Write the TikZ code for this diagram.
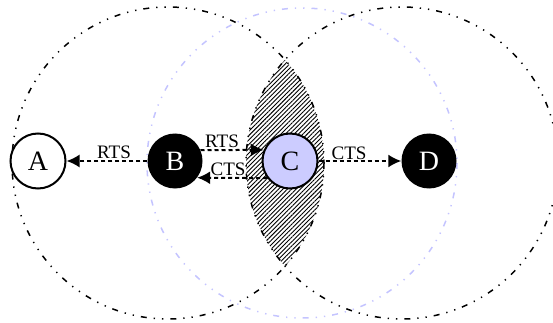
\documentclass[tikz,border=0pt]{standalone}
\usepackage{fontspec}
\setmainfont{Liberation Serif}
\usetikzlibrary{arrows.meta,patterns.meta}
\definecolor{cfill}{RGB}{204,204,255}
\definecolor{rangeblue}{RGB}{196,196,255}
\tikzset{
  radiorange/.style={line width=1.5pt, dash pattern=on 6pt off 7pt on 1.3pt off 7pt on 1.3pt off 7pt},
  bluerange/.style={radiorange, draw=rangeblue},
  station/.style={circle, minimum size=55pt, inner sep=0pt, font=\fontsize{28}{30}\selectfont},
  whitest/.style={station, draw=black, line width=2pt, fill=white},
  blackst/.style={station, fill=black, text=white},
  bluest/.style={station, draw=black, line width=2pt, fill=cfill},
  msg/.style={line width=2pt, dash pattern=on 4pt off 3pt, -{Latex[length=13pt,width=13pt]}},
  lbl/.style={font=\fontsize{19}{21}\selectfont, inner sep=0pt}
}
\begin{document}
\begin{tikzpicture}[x=1pt,y=-1pt]
\useasboundingbox (0,0) rectangle (553,323);
\coordinate (lc) at (168,163);
\coordinate (rc) at (402,163);
\coordinate (bc) at (302,163);
% hatched overlap
\begin{scope}
  \clip (lc) circle (156);
  \fill[pattern={Lines[angle=45,distance=3.1pt,line width=0.9pt]}] (rc) circle (156);
\end{scope}
% ranges
\draw[bluerange] (bc) circle (155);
\draw[radiorange] (lc) circle (156);
\draw[radiorange] (rc) circle (156);
% stations
\node[whitest] (A) at (38,161) {A};
\node[blackst] (B) at (175,161) {B};
\node[bluest]  (C) at (290,161) {C};
\node[blackst] (D) at (429,161) {D};
% messages
\draw[msg] (B.west) -- (A.east);
\draw[msg] (B.23) -- (C.157);
\draw[msg] (C.217) -- (B.323);
\draw[msg] (C.east) -- (D.west);
% labels
\node[lbl] (l1) at (114,152) {RTS};
\node[lbl] (l2) at (222,141) {RTS};
\node[lbl] (l3) at (228,169) {CTS};
\node[lbl] (l4) at (349,153) {CTS};
\end{tikzpicture}
\end{document}
